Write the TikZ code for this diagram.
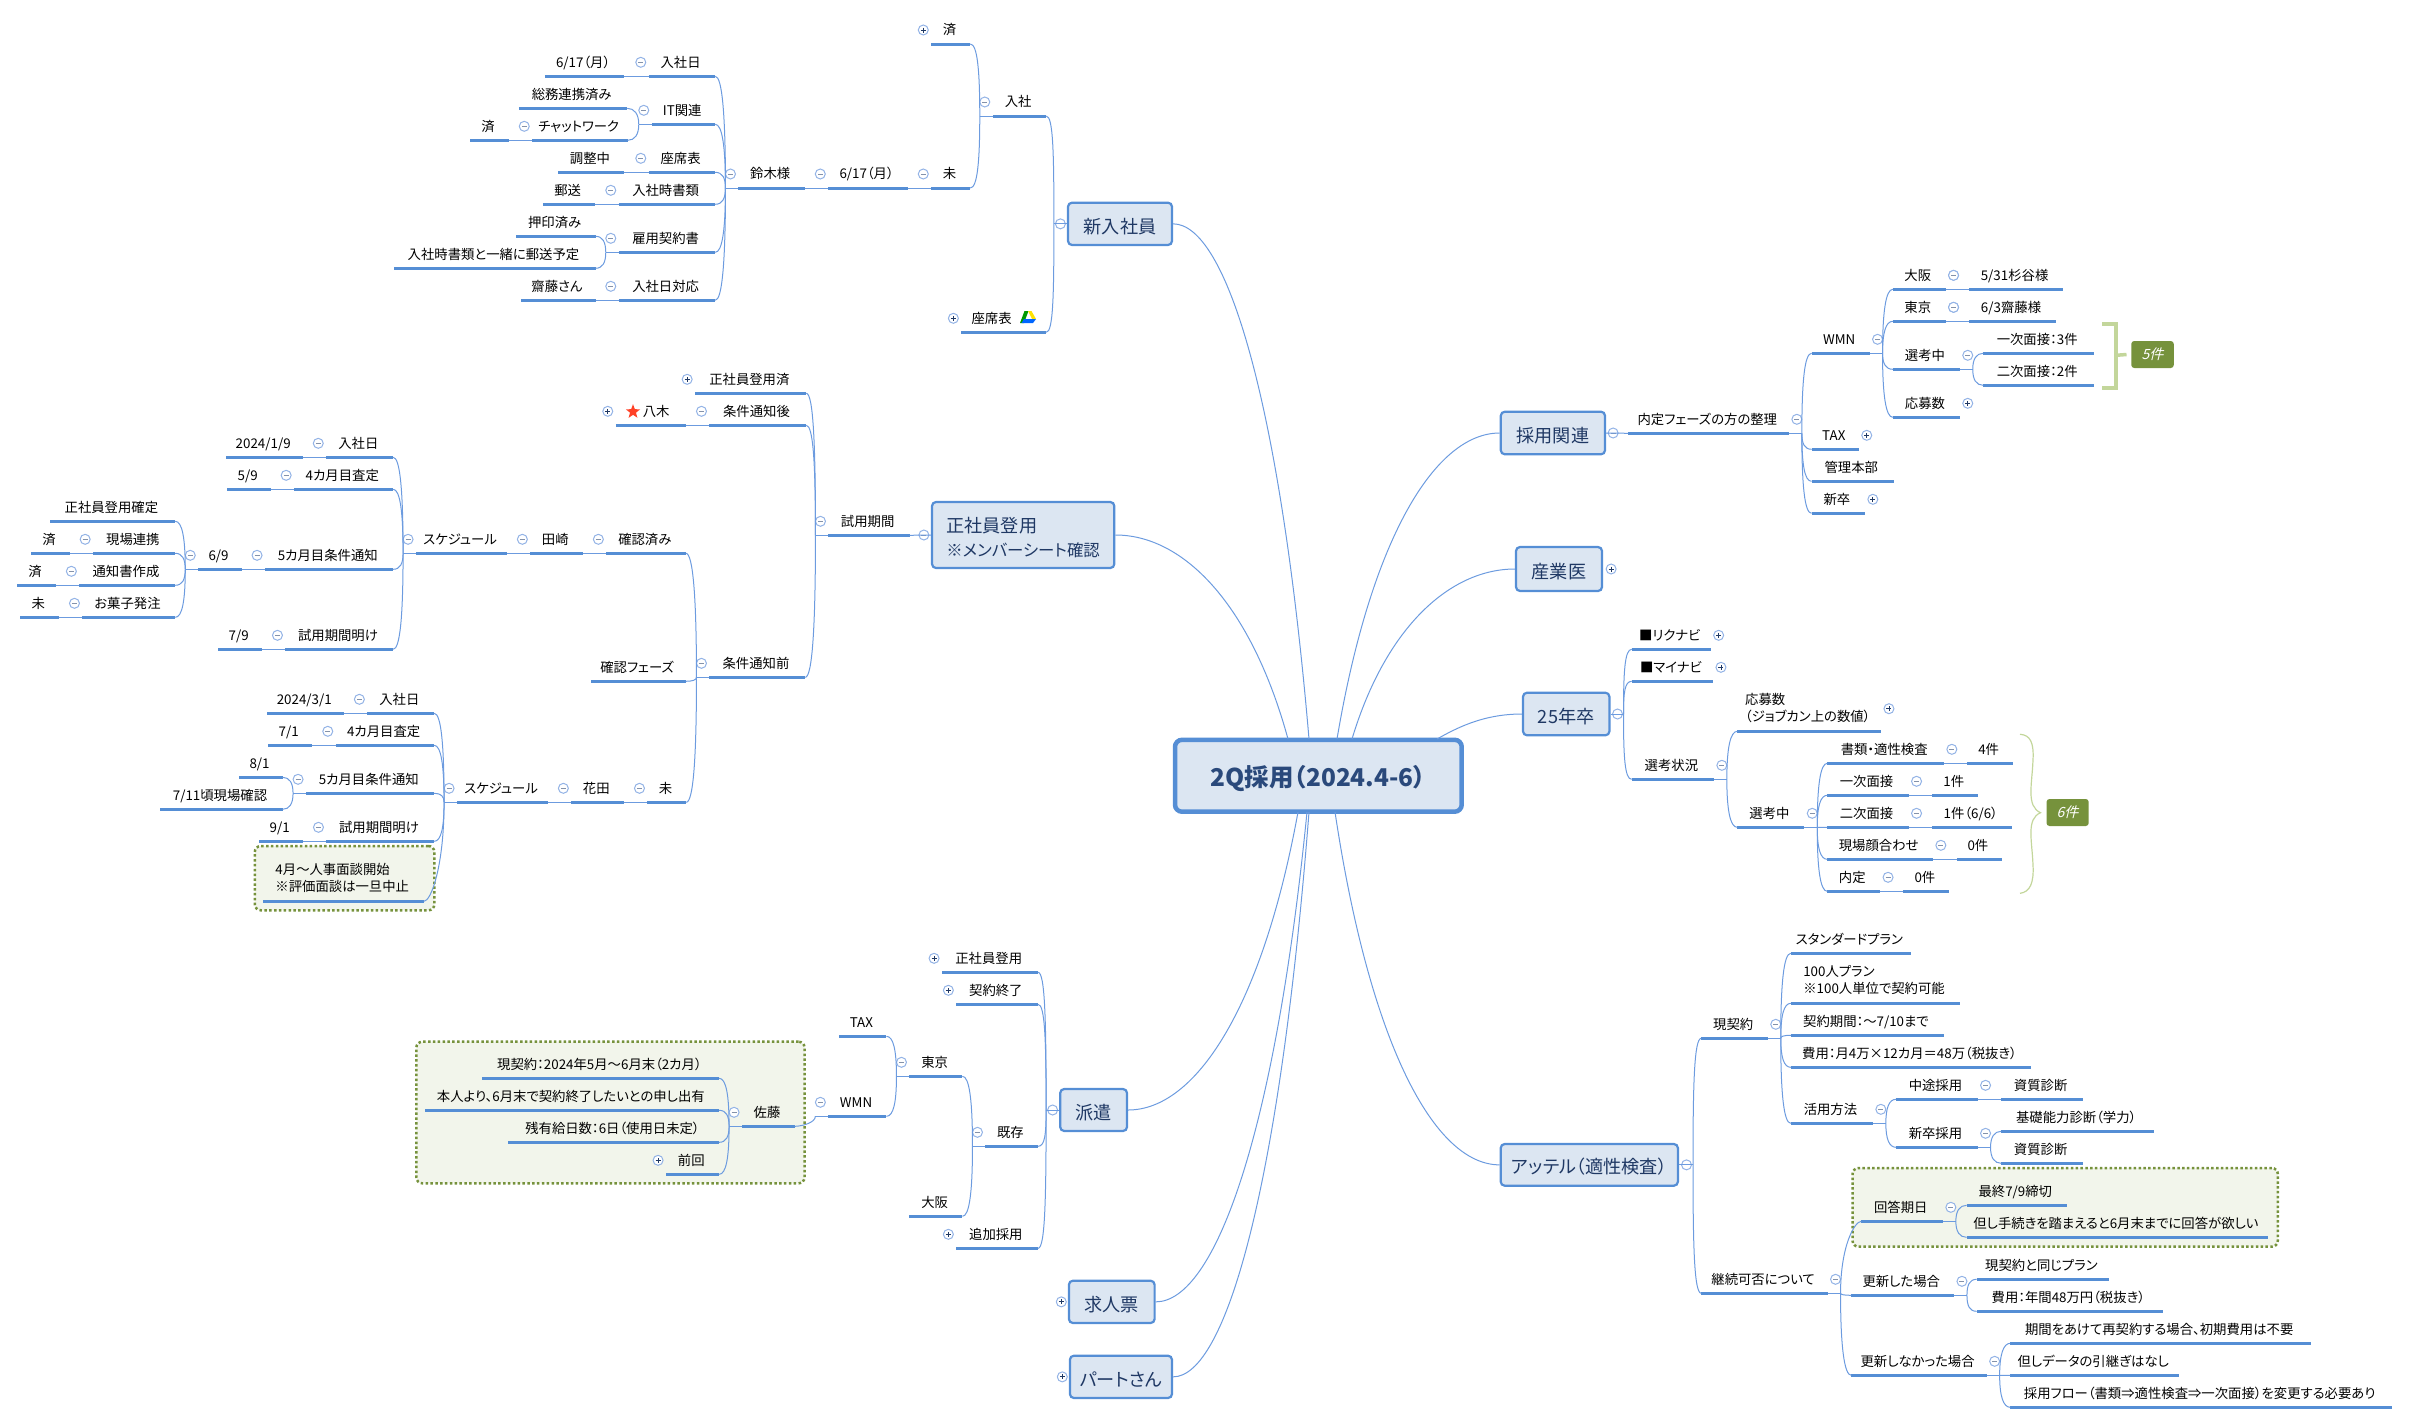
\documentclass[tikz,border=0pt]{standalone}
\usepackage{fontspec}
\setmainfont{Noto Sans CJK JP}[RawFeature=+palt]
\newfontfamily\tagfont{Noto Sans CJK JP}[FakeSlant=0.25]
\usetikzlibrary{calc,shapes.geometric}

\definecolor{lineblue}{HTML}{558ED5}
\definecolor{thinblue}{HTML}{6C9BDF}
\definecolor{boxfill}{HTML}{DCE6F2}
\definecolor{boxtext}{HTML}{1F3864}
\definecolor{iconblue}{HTML}{93B3E6}
\definecolor{memofill}{HTML}{F2F5EB}
\definecolor{olive}{HTML}{76923C}
\definecolor{palegreen}{HTML}{C3D69B}

\def\pxu{0.03cm}

\tikzset{
    topic/.style={anchor=south,inner sep=0pt,minimum height=25*\pxu,align=left,
        font=\fontsize{11.4}{15.1}\selectfont},
    twoline/.style={minimum height=43*\pxu},
    uline/.style={draw=lineblue,line width=3*\pxu},
    link/.style={draw=thinblue,line width=1*\pxu},
    mainbox/.style={draw=lineblue,fill=boxfill,line width=2.2*\pxu,rounded corners=4*\pxu,
        text=boxtext,inner sep=0pt,align=left,font=\fontsize{15.5}{21}\selectfont},
    rootbox/.style={mainbox,line width=4.5*\pxu,rounded corners=7*\pxu,
        font=\fontsize{20.9}{24}\selectfont\bfseries,text=boxtext!80!lineblue},
    memo/.style={draw=olive,fill=memofill,dotted,line width=2.5*\pxu,rounded corners=6*\pxu},
    tagbox/.style={fill=olive,rounded corners=3*\pxu,inner sep=0pt,text=white,
        font=\fontsize{12}{14}\tagfont},
    fold/.style={circle,draw=iconblue,fill=white,line width=1*\pxu,minimum size=10*\pxu,inner sep=0pt},
    fminus/.style={fold,path picture={
        \draw[boxtext!55,line width=.8*\pxu] ($(path picture bounding box.center)+(-2.5,0)$) -- +(5,0);}},
    fplus/.style={fold,path picture={
        \draw[boxtext,line width=.8*\pxu] ($(path picture bounding box.center)+(-2.5,0)$) -- +(5,0);
        \draw[boxtext,line width=.8*\pxu] ($(path picture bounding box.center)+(0,-2.5)$) -- +(0,5);}},
    pale/.style={draw=palegreen},
}

% topic: name, left end, right end and height of its line, text
\newcommand\tpc[6][]{%
    \node[topic,minimum width={(#4-#3)*\pxu},#1] (#2) at ({(#3+#4)/2},#5) {\strut#6\strut\hspace*{0.08cm}};
    \draw[uline] (#2.south west) -- (#2.south east);}
% box: name, x1, x2, y1, y2, text
\newcommand\bx[7][mainbox]{%
    \node[#1,minimum width={(#4-#3)*\pxu},minimum height={(#6-#5)*\pxu}] (#2) at ({(#3+#4)/2},{(#5+#6)/2}) {\rule{0pt}{1.1em}#7};}
% fold icons and junctions, branches to the left (L) or right (R)
\newcommand\tipL[1]{\node[fplus] (#1f) at ([shift={(-8,-14)}]#1.south west) {};}
\newcommand\tipR[1]{\node[fplus] (#1f) at ([shift={(8,-14)}]#1.south east) {};}
\newcommand\oneL[2]{\node[fminus] (#1f) at ([shift={(-8,-14)}]#1.south west) {};
    \draw[link] (#2.south east) -- (#1.south west);}
\newcommand\oneR[2]{\node[fminus] (#1f) at ([shift={(8,-14)}]#1.south east) {};
    \draw[link] (#1.south east) -- (#2.south west);}
\newcommand\hubL[1]{\node[fminus] (#1f) at ([shift={(-8,-14)}]#1.south west) {};
    \coordinate (#1j) at ([shift={(-13,0)}]#1.south west);
    \draw[link] (#1j) -- (#1.south west);}
\newcommand\hubR[1]{\node[fminus] (#1f) at ([shift={(8,-14)}]#1.south east) {};
    \coordinate (#1j) at ([shift={(13,0)}]#1.south east);
    \draw[link] (#1.south east) -- (#1j);}
\newcommand\kidL[2]{\draw[link] (#1.south east) .. controls +(7,0) and ($(#2j)!.65!(#2j |- #1.south east)$) .. (#2j);}
\newcommand\kidR[2]{\draw[link] (#1.south west) .. controls +(-7,0) and ($(#2j)!.65!(#2j |- #1.south west)$) .. (#2j);}

\begin{document}
\begin{tikzpicture}[x=\pxu,y=-\pxu]
    \useasboundingbox (0,0) rectangle (2409,1424);

    % メモの背景
    \bx[memo]{memoA}{254.8}{434.4}{846}{910.3}{}
    \bx[memo]{memoB}{416.3}{804.6}{1041.7}{1183.3}{}
    \bx[memo]{memoC}{1852.5}{2277.8}{1168}{1246.7}{}

    % 中心と主枝
    \bx[rootbox]{root}{1175}{1461.7}{739.8}{811.7}{2Q採用（2024.4-6）}
    \bx{newhire}{1068}{1172}{202.7}{245}{新入社員}
    \bx{seisha}{932}{1114.3}{502}{568}{正社員登用\\\fontsize{14}{21}\selectfont ※メンバーシート確認}
    \bx{haken}{1060.2}{1127}{1089}{1131}{派遣}
    \bx{kyujin}{1068.9}{1154.6}{1280.7}{1323}{求人票}
    \bx{part}{1069.9}{1172}{1355.7}{1398}{パートさん}
    \bx{saiyo}{1500.8}{1605}{411.7}{454.3}{採用関連}
    \bx{sangyo}{1516}{1602}{547}{591}{産業医}
    \bx{sotsu}{1523}{1609.4}{692.7}{735.3}{25年卒}
    \bx{attel}{1500.7}{1677.9}{1144}{1185.7}{アッテル（適性検査）}

    \coordinate (rA) at (1309,739);
    \coordinate (rB) at (1288,739);
    \coordinate (rC) at (1337,739);
    \coordinate (rD) at (1352,739);
    \coordinate (rE) at (1437,739);
    \coordinate (rF) at (1298,812);
    \coordinate (rG) at (1307,812);
    \coordinate (rH) at (1309,812);
    \coordinate (rI) at (1335,812);
    \draw[link] (newhire.east) .. controls +(53,0) and +(-29,-340) .. (rA);
    \draw[link] (seisha.east) .. controls +(68,0) and +(-37,-135) .. (rB);
    \draw[link] (saiyo.west) .. controls +(-64,0) and +(34,-202) .. (rC);
    \draw[link] (sangyo.west) .. controls +(-64,0) and +(34,-113) .. (rD);
    \draw[link] (sotsu.west) .. controls +(-40,0) and +(18,-10) .. (rE);
    \draw[link] (haken.east) .. controls +(67,0) and +(-36,197) .. (rF);
    \draw[link] (kyujin.east) .. controls +(59,0) and +(-32,323) .. (rG);
    \draw[link] (part.east) .. controls +(53,0) and +(-29,373) .. (rH);
    \draw[link] (attel.west) .. controls +(-65,0) and +(35,233) .. (rI);

    % 主枝の開閉
    \node[fminus] (newhiref) at ([shift={(-6.5,0)}]newhire.west) {};
    \coordinate (newhirej) at ([shift={(-13,0)}]newhire.west);
    \draw[link] (newhirej) -- (newhire.west);
    \node[fminus] (seishaf) at ([shift={(-7,0)}]seisha.west) {};
    \node[fminus] (hakenf) at ([shift={(-6.5,0)}]haken.west) {};
    \coordinate (hakenj) at ([shift={(-13,0)}]haken.west);
    \draw[link] (hakenj) -- (haken.west);
    \node[fplus] (kyujinf) at ([shift={(-6.5,0)}]kyujin.west) {};
    \node[fplus] (partf) at ([shift={(-6.5,0)}]part.west) {};
    \node[fminus] (saiyof) at ([shift={(7,0)}]saiyo.east) {};
    \node[fplus] (sangyof) at ([shift={(8,0)}]sangyo.east) {};
    \node[fminus] (sotsuf) at ([shift={(7,0)}]sotsu.east) {};
    \coordinate (sotsuj) at ([shift={(13,0)}]sotsu.east);
    \draw[link] (sotsu.east) -- (sotsuj);
    \node[fminus] (attelf) at ([shift={(7.5,0)}]attel.east) {};
    \coordinate (attelj) at ([shift={(14,0)}]attel.east);
    \draw[link] (attel.east) -- (attelj);

    % 新入社員
    \tpc{nyusha}{993}{1046}{116}{入社}
    \tpc{zaseki}{961.6}{1046}{332.3}{座席表\hspace{0.65cm}}
    \kidL{nyusha}{newhire}
    \kidL{zaseki}{newhire}
    \hubL{nyusha}
    \tipL{zaseki}
    \tpc{zumi}{931.5}{970}{44}{済}
    \tpc{mi}{931.5}{970}{188}{未}
    \kidL{zumi}{nyusha}
    \kidL{mi}{nyusha}
    \tipL{zumi}
    \tpc{hiduke}{828.5}{907.5}{188}{6/17（月）}
    \tpc{suzuki}{738.7}{804.5}{188}{鈴木様}
    \oneL{mi}{hiduke}
    \oneL{hiduke}{suzuki}
    \hubL{suzuki}
    \tpc{sNyusha}{649}{715}{76.3}{入社日}
    \tpc{sIt}{652}{715}{124.3}{IT関連}
    \tpc{sZaseki}{649}{715}{172.3}{座席表}
    \tpc{sShorui}{619}{715}{204.3}{入社時書類}
    \tpc{sKeiyaku}{619}{715}{252.3}{雇用契約書}
    \tpc{sTaio}{619}{715}{300.3}{入社日対応}
    \kidL{sNyusha}{suzuki}
    \kidL{sIt}{suzuki}
    \kidL{sZaseki}{suzuki}
    \kidL{sShorui}{suzuki}
    \kidL{sKeiyaku}{suzuki}
    \kidL{sTaio}{suzuki}
    \tpc{sHi}{545}{624}{76.3}{6/17（月）}
    \oneL{sNyusha}{sHi}
    \hubL{sIt}
    \tpc{sSomu}{519}{627}{108.3}{総務連携済み}
    \tpc{sChat}{532.5}{627.5}{140.3}{チャットワーク}
    \kidL{sSomu}{sIt}
    \kidL{sChat}{sIt}
    \tpc{sChatZ}{470.3}{508.6}{140.3}{済}
    \oneL{sChat}{sChatZ}
    \tpc{sChosei}{558.6}{624}{172.3}{調整中}
    \oneL{sZaseki}{sChosei}
    \tpc{sYuso}{543}{595}{204.3}{郵送}
    \oneL{sShorui}{sYuso}
    \hubL{sKeiyaku}
    \tpc{sOin}{516.7}{595.3}{236.3}{押印済み}
    \tpc{sIssho}{394.3}{595.3}{268.3}{入社時書類と一緒に郵送予定}
    \kidL{sOin}{sKeiyaku}
    \kidL{sIssho}{sKeiyaku}
    \tpc{sSaito}{521.3}{595.3}{300.3}{齋藤さん}
    \oneL{sTaio}{sSaito}
    % ドライブのアイコン
    \fill[green!60!black] (1024.5,311) -- (1028.5,311) -- (1024,323) -- (1020,323) -- cycle;
    \fill[yellow!85!orange] (1028,311) -- (1031.5,311) -- (1036,319) -- (1032,319) -- cycle;
    \fill[blue!60!cyan] (1024,319) -- (1036,319) -- (1033,323) -- (1021.5,323) -- cycle;

    % 正社員登用
    \tpc{shiyo}{828.7}{909.3}{535.3}{試用期間}
    \draw[link] (shiyo.south east) -- (seisha.west);
    \hubL{shiyo}
    \tpc{tZumi}{695.4}{806}{393.3}{正社員登用済}
    \tpc{tAto}{709.7}{806}{425.3}{条件通知後}
    \tpc{tMae}{709.7}{805}{677.3}{条件通知前}
    \kidL{tZumi}{shiyo}
    \kidL{tAto}{shiyo}
    \kidL{tMae}{shiyo}
    \tipL{tZumi}
    \tpc{yagi}{616}{685.7}{425.3}{\hspace{0.4cm}八木}
    \oneL{tAto}{yagi}
    \tipL{yagi}
    \node[star,star points=5,star point ratio=2.4,fill=red!75!orange!85,inner sep=0pt,minimum size=15*\pxu] (yagiStar) at (633,411.7) {};
    \hubL{tMae}
    \tpc{kakunin}{606.6}{685.7}{553.3}{確認済み}
    \tpc{phase}{591.5}{685.4}{681.3}{確認フェーズ}
    \tpc{miB}{647.7}{686}{802.3}{未}
    \kidL{kakunin}{tMae}
    \kidL{phase}{tMae}
    \kidL{miB}{tMae}

    % 田崎
    \tpc{tazaki}{530.6}{582.7}{553.3}{田崎}
    \tpc{schedA}{416.3}{506.6}{553.3}{スケジュール}
    \oneL{kakunin}{tazaki}
    \oneL{tazaki}{schedA}
    \hubL{schedA}
    \tpc{aNyusha}{326.5}{392.9}{457.3}{入社日}
    \tpc{aSatei}{294.4}{392.9}{489.3}{4カ月目査定}
    \tpc{aTsuchi}{265.3}{392.9}{569.3}{5カ月目条件通知}
    \tpc{aAke}{285.7}{392.9}{649.3}{試用期間明け}
    \kidL{aNyusha}{schedA}
    \kidL{aSatei}{schedA}
    \kidL{aTsuchi}{schedA}
    \kidL{aAke}{schedA}
    \tpc{aDay1}{226.5}{302.6}{457.3}{2024/1/9}
    \tpc{aDay2}{227.6}{270.4}{489.3}{5/9}
    \tpc{aDay3}{198.5}{241.3}{569.3}{6/9}
    \tpc{aDay4}{218.4}{261.7}{649.3}{7/9}
    \oneL{aNyusha}{aDay1}
    \oneL{aSatei}{aDay2}
    \oneL{aTsuchi}{aDay3}
    \oneL{aAke}{aDay4}
    \hubL{aDay3}
    \tpc{aKakutei}{50.5}{175}{521.3}{正社員登用確定}
    \tpc{aGenba}{93.4}{175}{553.3}{現場連携}
    \tpc{aSho}{79.6}{175}{585.3}{通知書作成}
    \tpc{aKashi}{82.7}{175}{617.3}{お菓子発注}
    \kidL{aKakutei}{aDay3}
    \kidL{aGenba}{aDay3}
    \kidL{aSho}{aDay3}
    \kidL{aKashi}{aDay3}
    \tpc{aGenbaZ}{31.6}{69.4}{553.3}{済}
    \tpc{aShoZ}{17.3}{55.6}{585.3}{済}
    \tpc{aKashiM}{20.4}{58.7}{617.3}{未}
    \oneL{aGenba}{aGenbaZ}
    \oneL{aSho}{aShoZ}
    \oneL{aKashi}{aKashiM}

    % 花田
    \tpc{hanada}{571.6}{623.7}{802.3}{花田}
    \tpc{schedB}{457.3}{547.7}{802.3}{スケジュール}
    \oneL{miB}{hanada}
    \oneL{hanada}{schedB}
    \hubL{schedB}
    \tpc{bNyusha}{367.6}{433.9}{713.3}{入社日}
    \tpc{bSatei}{336}{433.9}{745.3}{4カ月目査定}
    \tpc{bTsuchi}{306.3}{433.9}{793.3}{5カ月目条件通知}
    \tpc{bAke}{326.7}{433.9}{841.3}{試用期間明け}
    \tpc[twoline]{bMemo}{263.5}{423.7}{901.3}{4月～人事面談開始\\※評価面談は一旦中止}
    \kidL{bNyusha}{schedB}
    \kidL{bSatei}{schedB}
    \kidL{bTsuchi}{schedB}
    \kidL{bAke}{schedB}
    \kidL{bMemo}{schedB}
    \tpc{bDay1}{267.6}{343.6}{713.3}{2024/3/1}
    \tpc{bDay2}{268.6}{311.4}{745.3}{7/1}
    \tpc{bDay4}{259.4}{302.8}{841.3}{9/1}
    \oneL{bNyusha}{bDay1}
    \oneL{bSatei}{bDay2}
    \oneL{bAke}{bDay4}
    \hubL{bTsuchi}
    \tpc{bDay3}{239.5}{282.3}{777.3}{8/1}
    \tpc{bGenba}{160.4}{282.3}{809.3}{7/11頃現場確認}
    \kidL{bDay3}{bTsuchi}
    \kidL{bGenba}{bTsuchi}

    % 派遣
    \tpc{hSeisha}{942.3}{1037.8}{972.3}{正社員登用}
    \tpc{hShuryo}{956.6}{1037.8}{1004.3}{契約終了}
    \tpc{hKison}{985.7}{1037.8}{1146.3}{既存}
    \tpc{hTsuika}{956.6}{1037.8}{1248.3}{追加採用}
    \kidL{hSeisha}{haken}
    \kidL{hShuryo}{haken}
    \kidL{hKison}{haken}
    \kidL{hTsuika}{haken}
    \tipL{hSeisha}
    \tipL{hShuryo}
    \tipL{hTsuika}
    \hubL{hKison}
    \tpc{hTokyo}{909.7}{962.2}{1076.3}{東京}
    \tpc{hOsaka}{909.7}{962.2}{1216.3}{大阪}
    \kidL{hTokyo}{hKison}
    \kidL{hOsaka}{hKison}
    \hubL{hTokyo}
    \tpc{hTax}{839.3}{886.2}{1036.3}{TAX}
    \tpc{hWmn}{828.6}{886.2}{1116.3}{WMN}
    \kidL{hTax}{hTokyo}
    \kidL{hWmn}{hTokyo}
    \hubL{hWmn}
    \tpc{sato}{742.3}{794.4}{1126.3}{佐藤}
    \kidL{sato}{hWmn}
    \hubL{sato}
    \tpc{sGen}{482.7}{718.9}{1078.3}{現契約：2024年5月～6月末（2カ月）}
    \tpc{sHon}{425.5}{718.9}{1110.3}{本人より、6月末で契約終了したいとの申し出有}
    \tpc{sZan}{508.7}{718.9}{1142.3}{残有給日数：6日（使用日未定）}
    \tpc{sZen}{666.3}{718.9}{1174.3}{前回}
    \kidL{sGen}{sato}
    \kidL{sHon}{sato}
    \kidL{sZan}{sato}
    \kidL{sZen}{sato}
    \tipL{sZen}

    % 採用関連
    \tpc{naitei}{1628.7}{1788.6}{433.3}{内定フェーズの方の整理}
    \draw[link] (saiyo.east) -- (naitei.south west);
    \hubR{naitei}
    \tpc{rWmn}{1811.8}{1869.3}{353.3}{WMN}
    \tpc{rTax}{1811.8}{1858.5}{449.3}{TAX}
    \tpc{rKanri}{1811.8}{1893.4}{481.3}{管理本部}
    \tpc{rShin}{1811.8}{1864.6}{513.3}{新卒}
    \kidR{rWmn}{naitei}
    \kidR{rTax}{naitei}
    \kidR{rKanri}{naitei}
    \kidR{rShin}{naitei}
    \tipR{rTax}
    \tipR{rShin}
    \hubR{rWmn}
    \tpc{rOsaka}{1893}{1945.3}{289.3}{大阪}
    \tpc{rTokyo}{1893}{1945.3}{321.3}{東京}
    \tpc{rSenko}{1893}{1959.5}{369.3}{選考中}
    \tpc{rObo}{1893}{1959.5}{417.3}{応募数}
    \kidR{rOsaka}{rWmn}
    \kidR{rTokyo}{rWmn}
    \kidR{rSenko}{rWmn}
    \kidR{rObo}{rWmn}
    \tipR{rOsaka}
    \tipR{rTokyo}
    \tipR{rObo}
    \tpc{rSugi}{1969.4}{2062.4}{289.3}{5/31杉谷様}
    \tpc{rSai}{1969.4}{2055.3}{321.3}{6/3齋藤様}
    \oneR{rOsaka}{rSugi}
    \oneR{rTokyo}{rSai}
    \hubR{rSenko}
    \tpc{rIchi}{1983.5}{2093.5}{353.3}{一次面接：3件}
    \tpc{rNi}{1983.5}{2093.5}{385.3}{二次面接：2件}
    \kidR{rIchi}{rSenko}
    \kidR{rNi}{rSenko}
    % 5件のまとめ
    \node[tagbox,minimum width=42.5*\pxu,minimum height=27*\pxu] (tagFive) at (2152.5,354.5) {5件};
    \draw[pale,line width=3.5*\pxu] (2102,324) -- (2116,324) -- (2116,388) -- (2102,388);
    \draw[pale,line width=3.5*\pxu] (2116,355.3) -- ([shift={(-4.5,0)}]tagFive.west);

    % 25年卒
    \tpc{kRiku}{1631.9}{1710.4}{649.3}{■リクナビ}
    \tpc{kMyna}{1631.9}{1712.7}{681.3}{■マイナビ}
    \tpc{kJokyo}{1631.9}{1713.6}{779.3}{選考状況}
    \kidR{kRiku}{sotsu}
    \kidR{kMyna}{sotsu}
    \kidR{kJokyo}{sotsu}
    \tipR{kRiku}
    \tipR{kMyna}
    \hubR{kJokyo}
    \tpc[twoline]{kObo}{1737.5}{1880.7}{731.3}{応募数\\（ジョブカン上の数値）}
    \tpc{kSenko}{1737.5}{1804}{827.3}{選考中}
    \kidR{kObo}{kJokyo}
    \kidR{kSenko}{kJokyo}
    \node[fplus] (kObof) at ([shift={(8,-22.6)}]kObo.south east) {};
    \hubR{kSenko}
    \tpc{kSho}{1827.5}{1943.6}{763.3}{書類・適性検査}
    \tpc{kIchi}{1827.5}{1908.3}{795.3}{一次面接}
    \tpc{kNi}{1827.5}{1908.3}{827.3}{二次面接}
    \tpc{kKao}{1827.5}{1932.6}{859.3}{現場顔合わせ}
    \tpc{kNai}{1827.5}{1879.8}{891.3}{内定}
    \kidR{kSho}{kSenko}
    \kidR{kIchi}{kSenko}
    \kidR{kNi}{kSenko}
    \kidR{kKao}{kSenko}
    \kidR{kNai}{kSenko}
    \tpc{kShoN}{1967.5}{2012.5}{763.3}{4件}
    \tpc{kIchiN}{1932.6}{1977.6}{795.3}{1件}
    \tpc{kNiN}{1932.6}{2011.6}{827.3}{1件（6/6）}
    \tpc{kKaoN}{1957}{2001.5}{859.3}{0件}
    \tpc{kNaiN}{1903.7}{1948.7}{891.3}{0件}
    \oneR{kSho}{kShoN}
    \oneR{kIchi}{kIchiN}
    \oneR{kNi}{kNiN}
    \oneR{kKao}{kKaoN}
    \oneR{kNai}{kNaiN}
    % 6件のまとめ
    \node[tagbox,minimum width=42.2*\pxu,minimum height=27*\pxu] (tagSix) at (2067.6,812.5) {6件};
    \draw[pale,line width=1.2*\pxu] (2020,734.3) .. controls (2030,735) and (2034,742) .. (2033,760)
        .. controls (2032,785) and (2026,806) .. (2040.5,812.7)
        .. controls (2026,819) and (2032,840) .. (2033,865)
        .. controls (2034,883) and (2030,892) .. (2020,893.3);

    % アッテル
    \tpc{aGen}{1701.5}{1767.5}{1038.3}{現契約}
    \tpc{aKei}{1701.5}{1827.3}{1293.3}{継続可否について}
    \kidR{aGen}{attel}
    \kidR{aKei}{attel}
    \hubR{aGen}
    \tpc{aStd}{1791}{1910.4}{953.3}{スタンダードプラン}
    \tpc[twoline]{aHyaku}{1791}{1959.7}{1003.3}{100人プラン\\※100人単位で契約可能}
    \tpc{aKikan}{1791}{1943.6}{1035.3}{契約期間：～7/10まで}
    \tpc{aHiyo}{1791}{2030.7}{1067.3}{費用：月4万×12カ月＝48万（税抜き）}
    \tpc{aKatsu}{1791}{1872.6}{1123.3}{活用方法}
    \kidR{aStd}{aGen}
    \kidR{aHyaku}{aGen}
    \kidR{aKikan}{aGen}
    \kidR{aHiyo}{aGen}
    \kidR{aKatsu}{aGen}
    \hubR{aKatsu}
    \tpc{aChuto}{1896.3}{1977.3}{1099.3}{中途採用}
    \tpc{aShinsotsu}{1896.3}{1977.3}{1147.3}{新卒採用}
    \kidR{aChuto}{aKatsu}
    \kidR{aShinsotsu}{aKatsu}
    \tpc{aShi}{2001.5}{2082.5}{1099.3}{資質診断}
    \oneR{aChuto}{aShi}
    \hubR{aShinsotsu}
    \tpc{aKiso}{2001.5}{2153.5}{1131.3}{基礎能力診断（学力）}
    \tpc{aShiB}{2001.5}{2082.5}{1163.3}{資質診断}
    \kidR{aKiso}{aShinsotsu}
    \kidR{aShiB}{aShinsotsu}
    \hubR{aKei}
    \tpc{aKaito}{1861.6}{1942.6}{1221.3}{回答期日}
    \tpc{aKoshin}{1851.5}{1953.7}{1295.3}{更新した場合}
    \tpc{aNashi}{1851.5}{1986.4}{1375.3}{更新しなかった場合}
    \kidR{aKaito}{aKei}
    \kidR{aKoshin}{aKei}
    \kidR{aNashi}{aKei}
    \hubR{aKaito}
    \tpc{aSai}{1966.8}{2066.4}{1205.3}{最終7/9締切}
    \tpc{aTada}{1966.8}{2267.7}{1237.3}{但し手続きを踏まえると6月末までに回答が欲しい}
    \kidR{aSai}{aKaito}
    \kidR{aTada}{aKaito}
    \hubR{aKoshin}
    \tpc{aOnaji}{1976.8}{2108.7}{1279.3}{現契約と同じプラン}
    \tpc{aNenkan}{1976.8}{2162.5}{1311.3}{費用：年間48万円（税抜き）}
    \kidR{aOnaji}{aKoshin}
    \kidR{aNenkan}{aKoshin}
    \hubR{aNashi}
    \tpc{aMaku}{2010.5}{2310.5}{1343.3}{期間をあけて再契約する場合、初期費用は不要}
    \tpc{aData}{2010.5}{2178.6}{1375.3}{但しデータの引継ぎはなし}
    \tpc{aFlow}{2010.5}{2391.5}{1407.3}{採用フロー（書類⇒適性検査⇒一次面接）を変更する必要あり}
    \kidR{aMaku}{aNashi}
    \kidR{aData}{aNashi}
    \kidR{aFlow}{aNashi}
\end{tikzpicture}
\end{document}
